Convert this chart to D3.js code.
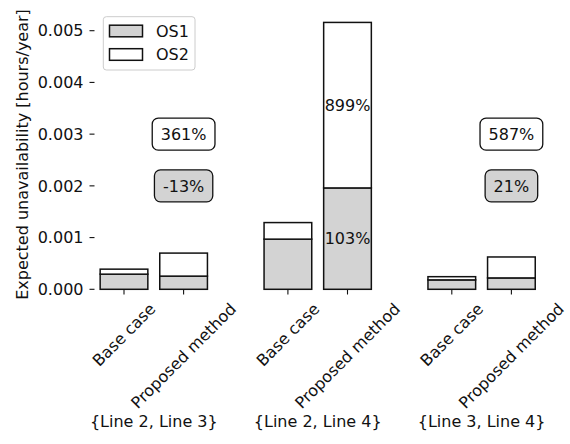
<!DOCTYPE html>
<html>
<head>
<meta charset="utf-8">
<script src="https://cdn.jsdelivr.net/npm/d3@7"></script>
<style>
  body { margin: 0; background: #fff; }
  svg { display: block; font-family: "DejaVu Sans", sans-serif; }
</style>
</head>
<body>
<svg width="570" height="444"></svg>
<script>
// chart data
const groups = ["{Line 2, Line 3}", "{Line 2, Line 4}", "{Line 3, Line 4}"];
const methods = ["Base case", "Proposed method"];
// one value per bar: [g1 base, g1 proposed, g2 base, g2 proposed, g3 base, g3 proposed]
const os1 = [0.000293, 0.000255, 0.00097, 0.00196, 0.000182, 0.00022];
const os2 = [0.0000965, 0.000445, 0.00032, 0.0032, 0.000062, 0.000405];
const os1Change = ["-13%", "103%", "21%"];
const os2Change = ["361%", "899%", "587%"];
const yTicks = [0, 0.001, 0.002, 0.003, 0.004, 0.005];
const seriesNames = ["OS1", "OS2"];

const FONT = 16;
const GROUP_GAP = 2.75;
const BAR_W = 0.8;
const grey = "#d3d3d3";

const $svg = d3.select("svg");

// bar positions in x units
const bars = [];
groups.forEach((g, gi) => {
  methods.forEach((m, mi) => {
    const i = gi * 2 + mi;
    bars.push({ group: gi, method: m, pos: gi * GROUP_GAP + mi, os1: os1[i], os2: os2[i] });
  });
});

const x = d3.scaleLinear().domain([0, 2 * GROUP_GAP + 1]).range([124, 124 + (2 * GROUP_GAP + 1) * 59.6]);
const y = d3.scaleLinear().domain([0, 0.005]).range([289.3, 30.7]);
const bw = x(BAR_W) - x(0);

// y axis (ticks only, no spine)
const yAxis = $svg.append("g").attr("class", "y-axis");
const yt = yAxis.selectAll("g").data(yTicks).enter().append("g")
  .attr("transform", d => `translate(0,${y(d)})`);
yt.append("line").attr("x1", 89.5).attr("x2", 94.5).attr("stroke", "#111").attr("stroke-width", 1.1);
yt.append("text").attr("x", 83.5).attr("dy", "0.36em").attr("text-anchor", "end")
  .attr("font-size", FONT).attr("fill", "#111").text(d => d3.format(".3f")(d));

$svg.append("text")
  .attr("transform", "translate(28,154.5) rotate(-90)")
  .attr("text-anchor", "middle").attr("font-size", FONT).attr("fill", "#111")
  .text("Expected unavailability [hours/year]");

// bars
const $bars = $svg.append("g").attr("class", "bars");
$bars.selectAll("rect.os1").data(bars).enter().append("rect")
  .attr("class", "os1")
  .attr("x", d => x(d.pos) - bw / 2).attr("width", bw)
  .attr("y", d => y(d.os1)).attr("height", d => y(0) - y(d.os1))
  .attr("fill", grey).attr("stroke", "#111").attr("stroke-width", 1.5);
$bars.selectAll("rect.os2").data(bars).enter().append("rect")
  .attr("class", "os2")
  .attr("x", d => x(d.pos) - bw / 2).attr("width", bw)
  .attr("y", d => y(d.os1 + d.os2)).attr("height", d => y(d.os1) - y(d.os1 + d.os2))
  .attr("fill", "#fff").attr("stroke", "#111").attr("stroke-width", 1.5);

// x ticks + rotated labels
const xAxis = $svg.append("g").attr("class", "x-axis");
const xt = xAxis.selectAll("g").data(bars).enter().append("g");
xt.append("line")
  .attr("x1", d => x(d.pos)).attr("x2", d => x(d.pos))
  .attr("y1", 289.5).attr("y2", 294.5).attr("stroke", "#111").attr("stroke-width", 1.1);
xt.append("text")
  .attr("text-anchor", "middle").attr("dominant-baseline", "central")
  .attr("font-size", FONT).attr("fill", "#111")
  .text(d => d.method)
  .attr("transform", function (d) {
    const w = this.getComputedTextLength();
    const h = FONT * 1.17;
    const half = (w + h) * Math.SQRT1_2 / 2;
    return `translate(${x(d.pos)},${299.5 + half}) rotate(-45)`;
  });

// group labels
xAxis.selectAll("text.group").data(groups).enter().append("text")
  .attr("class", "group")
  .attr("x", (d, i) => x(i * GROUP_GAP + 0.5)).attr("y", 427)
  .attr("text-anchor", "middle").attr("font-size", FONT).attr("fill", "#111")
  .text(d => d);

// change annotations
const $ann = $svg.append("g").attr("class", "annotations");
groups.forEach((g, gi) => {
  const p = bars[gi * 2 + 1];
  const cx = x(p.pos);
  const inside = y(p.os1) - y(p.os1 + p.os2) > 60;
  if (inside) {
    [[os2Change[gi], p.os1 + p.os2 / 2], [os1Change[gi], p.os1 / 2]].forEach(([t, v]) => {
      $ann.append("text").attr("x", cx).attr("y", y(v)).attr("dy", "0.36em")
        .attr("text-anchor", "middle").attr("font-size", FONT).attr("fill", "#111").text(t);
    });
  } else {
    [[os2Change[gi], 0.003, "#fff"], [os1Change[gi], 0.002, grey]].forEach(([t, v, fill]) => {
      const box = $ann.append("g");
      const rect = box.append("rect");
      const txt = box.append("text").attr("x", cx).attr("y", y(v)).attr("dy", "0.36em")
        .attr("text-anchor", "middle").attr("font-size", FONT).attr("fill", "#111").text(t);
      const w = txt.node().getComputedTextLength() + 2 * 8.5;
      const h = 32;
      rect.attr("x", cx - w / 2).attr("y", y(v) - h / 2).attr("width", w).attr("height", h)
        .attr("rx", 6).attr("fill", fill).attr("stroke", "#111").attr("stroke-width", 1.3);
    });
  }
});

// legend
const $leg = $svg.append("g").attr("class", "legend");
$leg.append("rect").attr("x", 103.3).attr("y", 16.7).attr("width", 91.7).attr("height", 53.3)
  .attr("rx", 3).attr("fill", "#fff").attr("fill-opacity", 0.8).attr("stroke", "#ccc");
seriesNames.forEach((s, i) => {
  const ly = 31 + i * 23.5;
  $leg.append("rect").attr("x", 109.5).attr("y", ly - 5.8).attr("width", 33).attr("height", 11.6)
    .attr("fill", i === 0 ? grey : "#fff").attr("stroke", "#111").attr("stroke-width", 1.5);
  $leg.append("text").attr("x", 156).attr("y", ly).attr("dy", "0.36em")
    .attr("font-size", FONT).attr("fill", "#111").text(s);
});
</script>
</body>
</html>
